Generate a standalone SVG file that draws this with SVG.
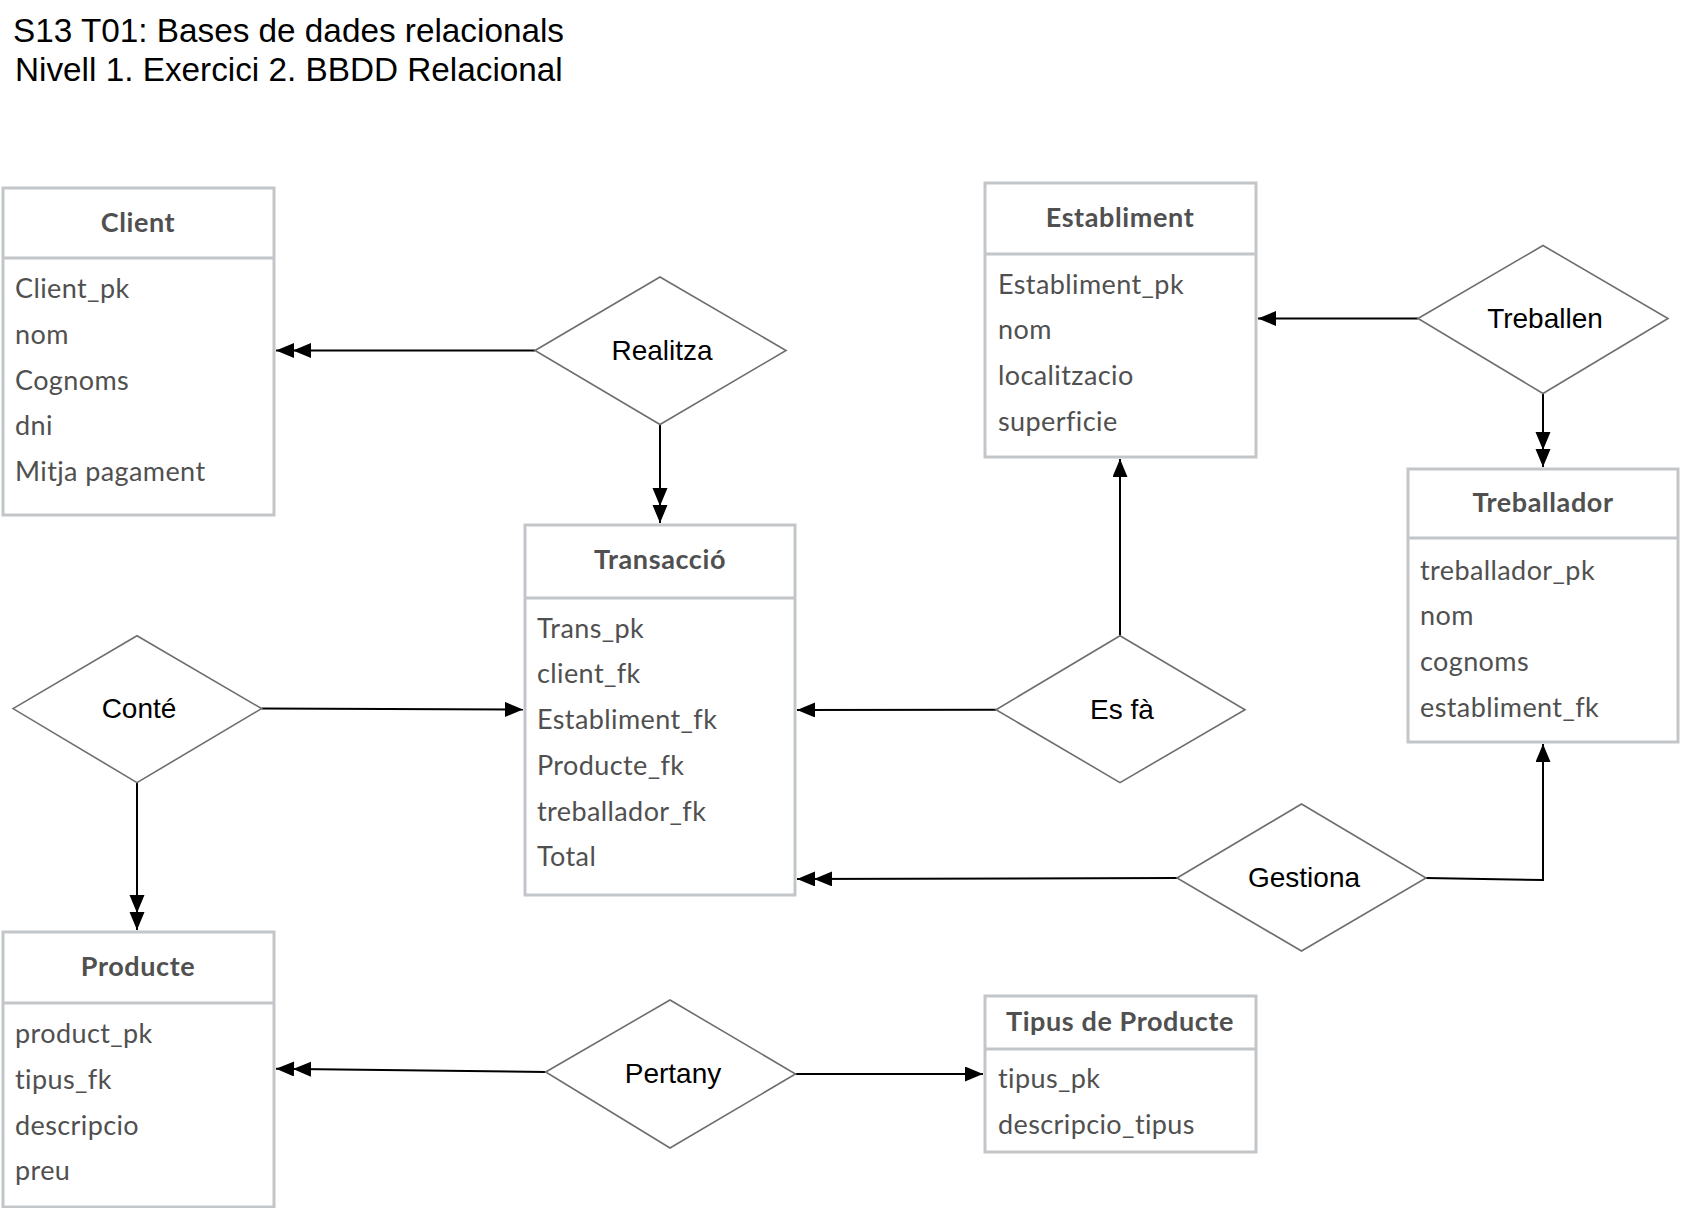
<svg xmlns="http://www.w3.org/2000/svg" width="1681" height="1208" viewBox="0 0 1681 1208">
<style>
.ent{fill:#fff;stroke:#c2c6c9;stroke-width:3}
.div{stroke:#c2c6c9;stroke-width:3}
.hd{font-family:Lato,"Open Sans",sans-serif;font-weight:bold;font-size:27px;letter-spacing:0.6px;fill:#505050;text-anchor:middle}
.at{font-family:Lato,"Open Sans",sans-serif;font-size:27px;letter-spacing:0.4px;fill:#505050}
.rel{fill:#fff;stroke:#6e6e6e;stroke-width:1.6}
.rt{font-family:"Liberation Sans",Arial,sans-serif;font-size:28px;fill:#000;text-anchor:middle}
.ttl{font-family:"Liberation Sans",Arial,sans-serif;font-size:33.3px;fill:#000}
.cn{fill:none;stroke:#000;stroke-width:2}
</style>
<defs>
<marker id="a1" markerUnits="userSpaceOnUse" markerWidth="19" markerHeight="16" refX="18" refY="7.5" orient="auto"><path d="M0,0 L18,7.5 L0,15 z" fill="#000"/></marker>
<marker id="a2" markerUnits="userSpaceOnUse" markerWidth="36" markerHeight="16" refX="35" refY="7.5" orient="auto"><path d="M0,0 L18,7.5 L0,15 z M17,0 L35,7.5 L17,15 z" fill="#000"/></marker>
</defs>
<rect width="1681" height="1208" fill="#fff"/>
<g id="title">
<text class="ttl" x="13" y="42">S13 T01: Bases de dades relacionals</text>
<text class="ttl" x="15" y="81">Nivell 1. Exercici 2. BBDD Relacional</text>
</g>
<g id="connectors">
<path class="cn" d="M535,350.5 L276,350.5" marker-end="url(#a2)"/>
<path class="cn" d="M660,424.5 L660,523" marker-end="url(#a2)"/>
<path class="cn" d="M1418,318.5 L1258,318.5" marker-end="url(#a1)"/>
<path class="cn" d="M1543,393.5 L1543,467" marker-end="url(#a2)"/>
<path class="cn" d="M1120,635.7 L1120,459" marker-end="url(#a1)"/>
<path class="cn" d="M996,709.7 L797,710" marker-end="url(#a1)"/>
<path class="cn" d="M261.6,708.6 L523,709.5" marker-end="url(#a1)"/>
<path class="cn" d="M137,782.6 L137,930" marker-end="url(#a2)"/>
<path class="cn" d="M545.7,1072 L276,1068.8" marker-end="url(#a2)"/>
<path class="cn" d="M795.5,1074 L983,1074" marker-end="url(#a1)"/>
<path class="cn" d="M1177,878 L797,879" marker-end="url(#a2)"/>
<path class="cn" d="M1426,878 L1543,880 L1543,744" marker-end="url(#a1)"/>
</g>
<g id="client">
<rect class="ent" x="3" y="188" width="271" height="327"/>
<line class="div" x1="3" y1="258" x2="274" y2="258"/>
<text class="hd" x="138" y="232">Client</text>
<text class="at" x="15" y="298">Client_pk</text>
<text class="at" x="15" y="344">nom</text>
<text class="at" x="15" y="390">Cognoms</text>
<text class="at" x="15" y="435">dni</text>
<text class="at" x="15" y="481">Mitja pagament</text>
</g>
<g id="transaccio">
<rect class="ent" x="525" y="525" width="270" height="370"/>
<line class="div" x1="525" y1="598" x2="795" y2="598"/>
<text class="hd" x="660" y="569">Transacció</text>
<text class="at" x="537" y="638">Trans_pk</text>
<text class="at" x="537" y="683">client_fk</text>
<text class="at" x="537" y="729">Establiment_fk</text>
<text class="at" x="537" y="775">Producte_fk</text>
<text class="at" x="537" y="821">treballador_fk</text>
<text class="at" x="537" y="866">Total</text>
</g>
<g id="establiment">
<rect class="ent" x="985" y="183" width="271" height="274"/>
<line class="div" x1="985" y1="254" x2="1256" y2="254"/>
<text class="hd" x="1120" y="227">Establiment</text>
<text class="at" x="998" y="294">Establiment_pk</text>
<text class="at" x="998" y="339">nom</text>
<text class="at" x="998" y="385">localitzacio</text>
<text class="at" x="998" y="431">superficie</text>
</g>
<g id="treballador">
<rect class="ent" x="1408" y="469" width="270" height="273"/>
<line class="div" x1="1408" y1="538" x2="1678" y2="538"/>
<text class="hd" x="1543" y="512">Treballador</text>
<text class="at" x="1420" y="580">treballador_pk</text>
<text class="at" x="1420" y="625">nom</text>
<text class="at" x="1420" y="671">cognoms</text>
<text class="at" x="1420" y="717">establiment_fk</text>
</g>
<g id="producte">
<rect class="ent" x="3" y="932" width="271" height="275"/>
<line class="div" x1="3" y1="1003" x2="274" y2="1003"/>
<text class="hd" x="138" y="976">Producte</text>
<text class="at" x="15" y="1043">product_pk</text>
<text class="at" x="15" y="1089">tipus_fk</text>
<text class="at" x="15" y="1135">descripcio</text>
<text class="at" x="15" y="1180">preu</text>
</g>
<g id="tipus">
<rect class="ent" x="985" y="996" width="271" height="156"/>
<line class="div" x1="985" y1="1049" x2="1256" y2="1049"/>
<text class="hd" x="1120" y="1031">Tipus de Producte</text>
<text class="at" x="998" y="1088">tipus_pk</text>
<text class="at" x="998" y="1134">descripcio_tipus</text>
</g>
<g id="realitza">
<polygon class="rel" points="535,350.5 660,277 786,350.5 660,424.5"/>
<text class="rt" x="662" y="360">Realitza</text>
</g>
<g id="treballen">
<polygon class="rel" points="1418,318.5 1543,245.5 1668,318.5 1543,393.5"/>
<text class="rt" x="1545" y="328">Treballen</text>
</g>
<g id="esfa">
<polygon class="rel" points="996,709.7 1120,635.7 1245,709.7 1120,782.6"/>
<text class="rt" x="1122" y="719">Es fà</text>
</g>
<g id="conte">
<polygon class="rel" points="13,708.6 137,635.7 261.6,708.6 137,782.6"/>
<text class="rt" x="139" y="718">Conté</text>
</g>
<g id="pertany">
<polygon class="rel" points="545.7,1072 670,1000 795.5,1074 670,1148"/>
<text class="rt" x="673" y="1083">Pertany</text>
</g>
<g id="gestiona">
<polygon class="rel" points="1177,878 1301.5,804 1426,878 1301.5,951"/>
<text class="rt" x="1304" y="887">Gestiona</text>
</g>
</svg>
